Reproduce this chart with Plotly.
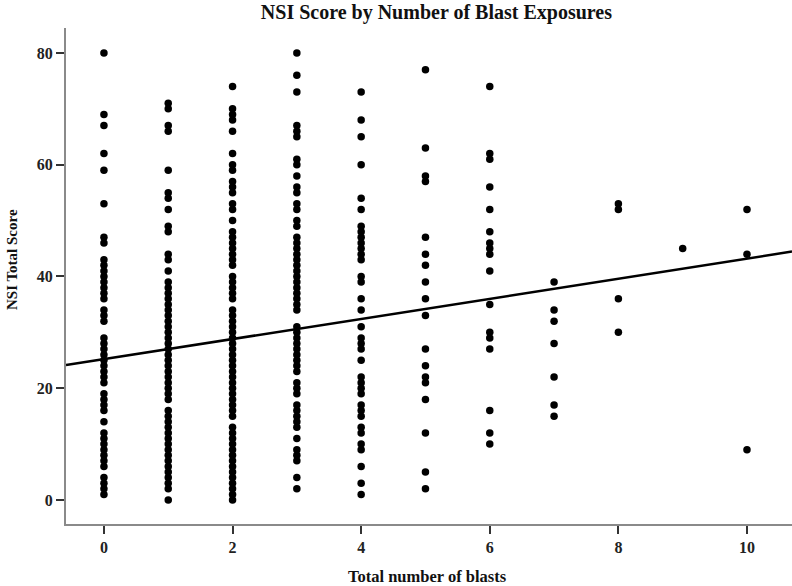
import plotly.graph_objects as go

# NSI total scores read for each number of blast exposures
blasts_0 = [80, 69, 67, 62, 59, 53, 47, 46, 43, 42, 41, 40, 39, 38, 37, 36, 34, 33, 32,
            29, 28, 27, 26, 25, 24, 23, 22, 21, 19, 18, 17, 16, 14, 12, 11, 10, 9, 8, 7,
            6, 4, 3, 2, 1]
blasts_1 = [71, 70, 67, 66, 59, 55, 54, 52, 49, 48, 44, 43, 41,
            39, 38, 37, 36, 35, 34, 33, 32, 31, 30, 29, 28, 27, 26, 25, 24, 23, 22, 21, 20, 19, 18,
            16, 15, 14, 13, 12, 11, 10, 9, 8, 7, 6, 5, 4, 3, 2, 0]
blasts_2 = [74, 70, 69, 68, 66, 62, 60, 59, 57, 56, 55, 53, 52, 50,
            48, 47, 46, 45, 44, 43, 42, 40, 39, 38, 37, 36,
            34, 33, 32, 31, 30, 29, 28, 27, 26, 25, 24, 23, 22, 21, 20, 19, 18, 17, 16, 15,
            13, 12, 11, 10, 9, 8, 7, 6, 5, 4, 3, 2, 1, 0]
blasts_3 = [80, 76, 73, 67, 66, 65, 61, 60, 58, 56, 55, 53, 52, 50, 49,
            47, 46, 45, 44, 43, 42, 41, 40, 39, 38, 37, 36, 35, 34,
            31, 30, 29, 28, 27, 26, 25, 24, 23, 21, 20, 19, 17, 16, 15, 14, 13, 11, 9, 8, 7, 4, 2]
blasts_4 = [73, 68, 65, 60, 54, 52, 49, 48, 47, 46, 45, 44, 43, 40, 39, 36, 34, 31, 29, 28,
            27, 25, 22, 21, 20, 19, 17, 16, 15, 13, 12, 10, 9, 6, 3, 1]
blasts_5 = [77, 63, 58, 57, 47, 44, 42, 39, 36, 33, 27, 24, 22, 21, 18, 12, 5, 2]
blasts_6 = [74, 62, 61, 56, 52, 48, 46, 45, 44, 41, 35, 30, 29, 27, 16, 12, 10]
blasts_7 = [39, 34, 32, 28, 22, 17, 15]
blasts_8 = [53, 52, 36, 30]
blasts_9 = [45]
blasts_10 = [52, 44, 9]

score_columns = [blasts_0, blasts_1, blasts_2, blasts_3, blasts_4, blasts_5,
                 blasts_6, blasts_7, blasts_8, blasts_9, blasts_10]
blast_counts = list(range(11))

# fitted regression line
fit_intercept = 25.2
fit_slope = 1.8

x_tick_vals = [0, 2, 4, 6, 8, 10]
y_tick_vals = [0, 20, 40, 60, 80]

x_range = [-0.59, 10.70]
y_range = [-4.3, 84.47]

xs, ys = [], []
for n, col in zip(blast_counts, score_columns):
    for s in col:
        xs.append(n)
        ys.append(s)

FONT = "Liberation Serif"

fig = go.Figure()
fig.add_trace(go.Scatter(x=xs, y=ys, mode="markers",
                         marker=dict(color="black", size=7.5, line=dict(width=0)),
                         showlegend=False, hoverinfo="x+y"))
fig.add_trace(go.Scatter(x=x_range,
                         y=[fit_intercept + fit_slope * v for v in x_range],
                         mode="lines", line=dict(color="black", width=2.5),
                         showlegend=False, hoverinfo="skip"))

axis_common = dict(showgrid=False, zeroline=False, showline=True,
                   linecolor="#8a8a8a", linewidth=2, ticks="outside",
                   ticklen=8, tickwidth=1.5, tickcolor="#333333",
                   tickfont=dict(family=FONT, size=16, color="#222222", weight="bold"),
                   automargin=False)

fig.update_layout(
    template="none",
    width=792, height=586,
    paper_bgcolor="white", plot_bgcolor="white",
    margin=dict(l=66, r=0, t=28, b=62),
    title=dict(text="NSI Score by Number of Blast Exposures",
               font=dict(family=FONT, size=20, color="#111111", weight="bold"),
               x=0.551, xanchor="center", y=1 - 12 / 586, yanchor="middle",
               xref="container", yref="container"),
    xaxis=dict(range=x_range, tickvals=x_tick_vals, **axis_common),
    yaxis=dict(range=y_range, tickvals=y_tick_vals, **axis_common),
    annotations=[
        dict(text="Total number of blasts", xref="paper", yref="paper",
             x=0.498, y=0, yshift=-52, xanchor="center", yanchor="middle",
             showarrow=False,
             font=dict(family=FONT, size=16.5, color="#111111", weight="bold")),
        dict(text="NSI Total Score", xref="paper", yref="paper",
             x=0, xshift=-54, y=(524 - 260) / 496, xanchor="center", yanchor="middle",
             textangle=-90, showarrow=False,
             font=dict(family=FONT, size=15, color="#111111", weight="bold")),
    ],
)

fig.write_html("out.html", config={"displayModeBar": False},
               post_script="document.body.style.margin='0px';")
